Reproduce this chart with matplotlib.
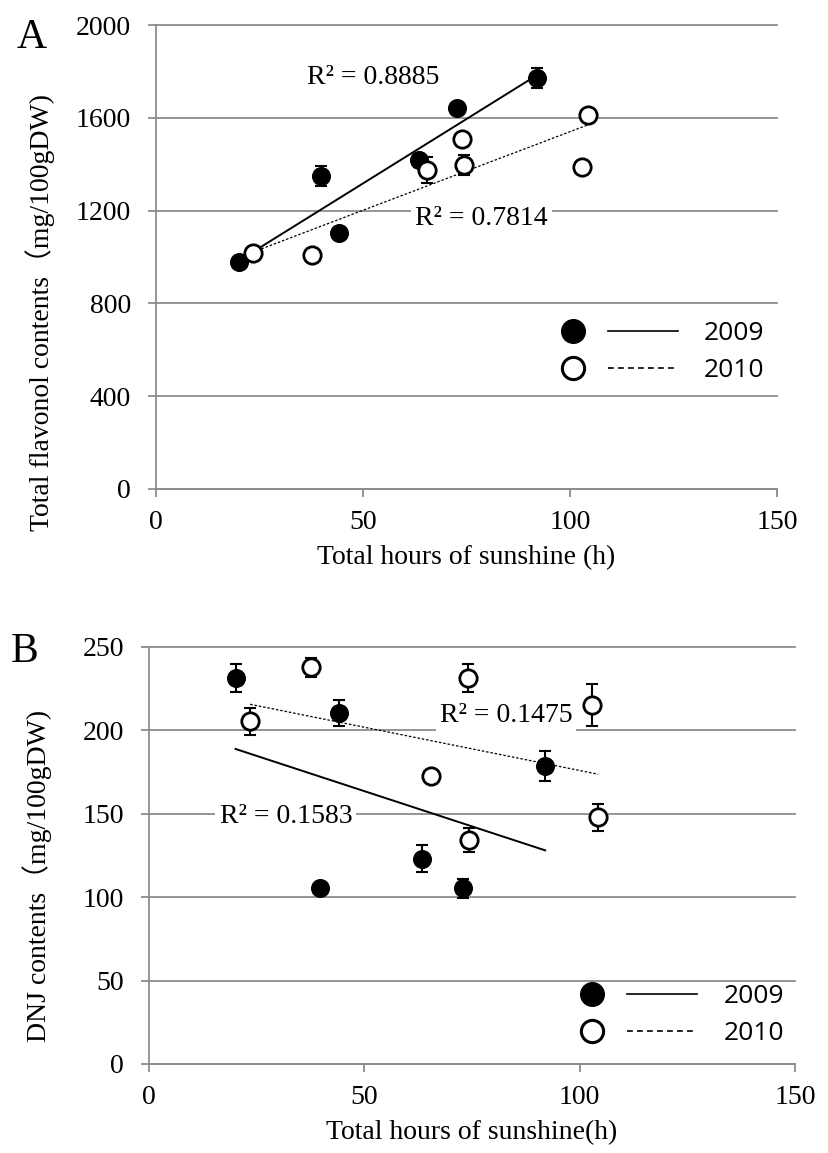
import matplotlib
matplotlib.use("Agg")
import matplotlib.pyplot as plt
import numpy as np
from matplotlib.lines import Line2D
from matplotlib.legend_handler import HandlerTuple

SERIF = ["Liberation Serif", "Noto Sans CJK SC"]
SANS = ["Open Sans", "DejaVu Sans"]
GRID = "#8c8c8c"

plt.rcParams["font.family"] = SERIF

# total hours of sunshine per sample
hours_2009 = [20.1, 39.8, 44.2, 63.5, 72.8, 92.0]
hours_2010 = [23.5, 37.7, 65.4, 74.0, 74.4, 102.8, 104.3]

# A: total flavonol contents (mg/100gDW)
flav_2009 = [980, 1350, 1102, 1416, 1644, 1771]
flav_2009_err = [15, 42, 15, 30, 15, 43]
flav_2010 = [1016, 1009, 1376, 1509, 1396, 1386, 1613]
flav_2010_err = [15, 15, 57, 15, 42, 15, 15]

# B: DNJ contents (mg/100gDW)
dnj_2009 = [231.4, 105.4, 210.4, 123.0, 105.4, 178.4]
dnj_2009_err = [8.4, 3, 8, 8, 5.7, 9]
dnj_2010 = [205.4, 237.8, 172.4, 231.4, 134.4, 215.4, 147.8]
dnj_2010_err = [8, 5.7, 3, 8.6, 7.3, 12.5, 8]

r2_labels_a = ["R² = 0.8885", "R² = 0.7814"]
r2_labels_b = ["R² = 0.1583", "R² = 0.1475"]

FS = 20


def trend(ax, x, y, **kw):
    x = np.asarray(x)
    k, b = np.polyfit(x, y, 1)
    xs = np.array([x.min(), x.max()])
    ax.plot(xs, k * xs + b, color="black", zorder=2, **kw)


def series(ax, x, y, err, filled):
    ax.errorbar(x, y, yerr=err, fmt="none", ecolor="black", elinewidth=1.5,
                capsize=4.5, capthick=1.5, zorder=3)
    ax.plot(x, y, ls="none", marker="o", ms=12.5,
            mfc="black" if filled else "white", mec="black",
            mew=1.2 if filled else 2.0, zorder=4)


def style(ax, xlim, ylim, yticks):
    ax.set_xlim(*xlim)
    ax.set_ylim(*ylim)
    ax.set_xticks([0, 50, 100, 150])
    ax.set_yticks(yticks)
    for sp in ["top", "right"]:
        ax.spines[sp].set_visible(False)
    for sp in ["left", "bottom"]:
        ax.spines[sp].set_color(GRID)
        ax.spines[sp].set_linewidth(1.3)
    ax.yaxis.grid(True, color=GRID, lw=1.3)
    for gl in ax.get_ygridlines():
        gl.set_clip_on(False)
    ax.set_axisbelow(True)
    ax.tick_params(axis="both", direction="out", length=6, width=1.3,
                   color=GRID, labelsize=FS)
    ax.tick_params(axis="x", pad=9)
    ax.tick_params(axis="y", pad=12)


def legend(ax, anchor):
    h09 = (Line2D([], [], ls="none", marker="o", ms=17, mfc="black", mec="black"),
           Line2D([], [], color="black", lw=1.2))
    h10 = (Line2D([], [], ls="none", marker="o", ms=16, mfc="white", mec="black", mew=2.2),
           Line2D([], [], color="black", lw=1.2, ls=(0, (3.5, 2.5))))
    ax.legend([h09, h10], ["2009", "2010"],
              handler_map={tuple: HandlerTuple(ndivide=None, pad=0)},
              loc="center left", bbox_to_anchor=anchor, frameon=False,
              prop={"family": SANS, "size": 19}, handlelength=5.3,
              handletextpad=1.0, labelspacing=0.45, borderpad=0, borderaxespad=0)


fig = plt.figure(figsize=(8.29, 11.53), dpi=100)
ax_a = fig.add_axes([0.1882, 0.5759, 0.749, 0.4024])
ax_b = fig.add_axes([0.1797, 0.0772, 0.7793, 0.3617])

# panel A
style(ax_a, (0, 150), (0, 2000), [0, 400, 800, 1200, 1600, 2000])
trend(ax_a, hours_2009, flav_2009, lw=1.4)
trend(ax_a, hours_2010, flav_2010, lw=0.9, ls=(0, (2, 1.5)))
series(ax_a, hours_2009, flav_2009, flav_2009_err, True)
series(ax_a, hours_2010, flav_2010, flav_2010_err, False)
ax_a.text(52.4, 1772, r2_labels_a[0], fontsize=FS, ha="center", va="center")
ax_a.text(78.6, 1168, r2_labels_a[1], fontsize=FS, ha="center", va="center",
          bbox=dict(fc="white", ec="none", pad=3))
ax_a.set_xlabel("Total hours of sunshine (h)", fontsize=FS)
ax_a.set_ylabel("Total flavonol contents（mg/100gDW)", fontsize=FS)
ax_a.xaxis.set_label_coords(0.5, -0.12)
ax_a.yaxis.set_label_coords(-0.163, 0.38)
legend(ax_a, (0.615, 0.295))

# panel B
style(ax_b, (0, 150), (0, 250), [0, 50, 100, 150, 200, 250])
trend(ax_b, hours_2009, dnj_2009, lw=1.4)
trend(ax_b, hours_2010, dnj_2010, lw=0.9, ls=(0, (2, 1.5)))
series(ax_b, hours_2009, dnj_2009, dnj_2009_err, True)
series(ax_b, hours_2010, dnj_2010, dnj_2010_err, False)
ax_b.text(31.8, 148.4, r2_labels_b[0], fontsize=FS, ha="center", va="center",
          bbox=dict(fc="white", ec="none", pad=3))
ax_b.text(82.9, 208.8, r2_labels_b[1], fontsize=FS, ha="center", va="center",
          bbox=dict(fc="white", ec="none", pad=3))
ax_b.set_xlabel("Total hours of sunshine(h)", fontsize=FS)
ax_b.set_ylabel("DNJ contents（mg/100gDW)", fontsize=FS)
ax_b.xaxis.set_label_coords(0.5, -0.135)
ax_b.yaxis.set_label_coords(-0.15, 0.45)
legend(ax_b, (0.632, 0.1175))

fig.text(32 / 829, 1 - 38 / 1153, "A", fontsize=30, ha="center", va="center")
fig.text(25 / 829, 1 - 652 / 1153, "B", fontsize=30, ha="center", va="center")

fig.savefig("out.png", dpi=100)
